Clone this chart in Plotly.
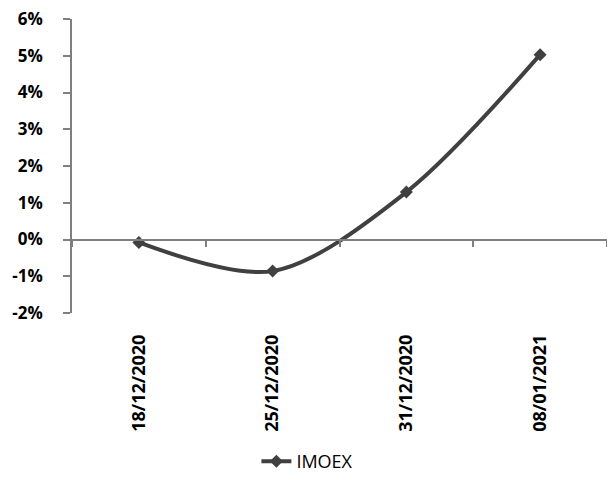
import plotly.graph_objects as go

dates = ["18/12/2020", "25/12/2020", "31/12/2020", "08/01/2021"]
imoex = [-0.08, -0.86, 1.29, 5.03]
y_ticks = [-2, -1, 0, 1, 2, 3, 4, 5, 6]
y_labels = ["-2%", "-1%", "0%", "1%", "2%", "3%", "4%", "5%", "6%"]
y_min, y_max = -2, 6

W, H = 599, 467
ml, mr, mt, mb = 64, 0, 11, 162
zero_pos = (0 - y_min) / (y_max - y_min)

line_col = "#404040"
axis_col = "#7f7f7f"
font_fam = "Open Sans"

fig = go.Figure()
fig.add_trace(go.Scatter(
    x=dates, y=imoex, name="IMOEX", mode="lines+markers",
    line=dict(color=line_col, width=4, shape="spline", smoothing=0.9),
    marker=dict(symbol="diamond", size=10, color=line_col),
))
fig.add_trace(go.Scatter(
    x=dates, y=[0] * len(dates), xaxis="x2", mode="lines",
    line=dict(width=0), showlegend=False, hoverinfo="skip",
))

fig.update_layout(
    width=W, height=H,
    margin=dict(l=ml, r=mr, t=mt, b=mb, autoexpand=False),
    paper_bgcolor="white", plot_bgcolor="white",
    font=dict(family=font_fam, color="black"),
    xaxis=dict(
        type="category", categoryarray=dates, range=[-0.5, len(dates) - 0.5],
        showline=False, showgrid=False, zeroline=False, ticks="",
        tickangle=-90, tickfont=dict(size=18, family=font_fam, weight="bold"),
        ticklabelstandoff=17, automargin=False,
    ),
    xaxis2=dict(
        type="category", categoryarray=dates, range=[-0.5, len(dates) - 0.5],
        overlaying="x", anchor="free", position=zero_pos,
        showline=True, linecolor=axis_col, linewidth=1.5,
        ticks="outside", ticklen=7, tickwidth=1.5, tickcolor=axis_col,
        tickson="boundaries", showticklabels=False, showgrid=False,
        zeroline=False,
    ),
    yaxis=dict(
        range=[y_min, y_max], tickvals=y_ticks, ticktext=y_labels,
        showline=True, linecolor=axis_col, linewidth=1.5,
        ticks="outside", ticklen=7, tickwidth=1.5, tickcolor=axis_col,
        showgrid=False, zeroline=False,
        tickfont=dict(size=17, family=font_fam, weight="bold"),
        ticklabelstandoff=17, ticklabeloverflow="allow", automargin=False,
    ),
    legend=dict(
        orientation="h", x=0.44, xanchor="center", y=-0.505, yanchor="middle",
        font=dict(size=18, family=font_fam, color="black"),
    ),
    showlegend=True,
)

fig.write_html("out.html")
